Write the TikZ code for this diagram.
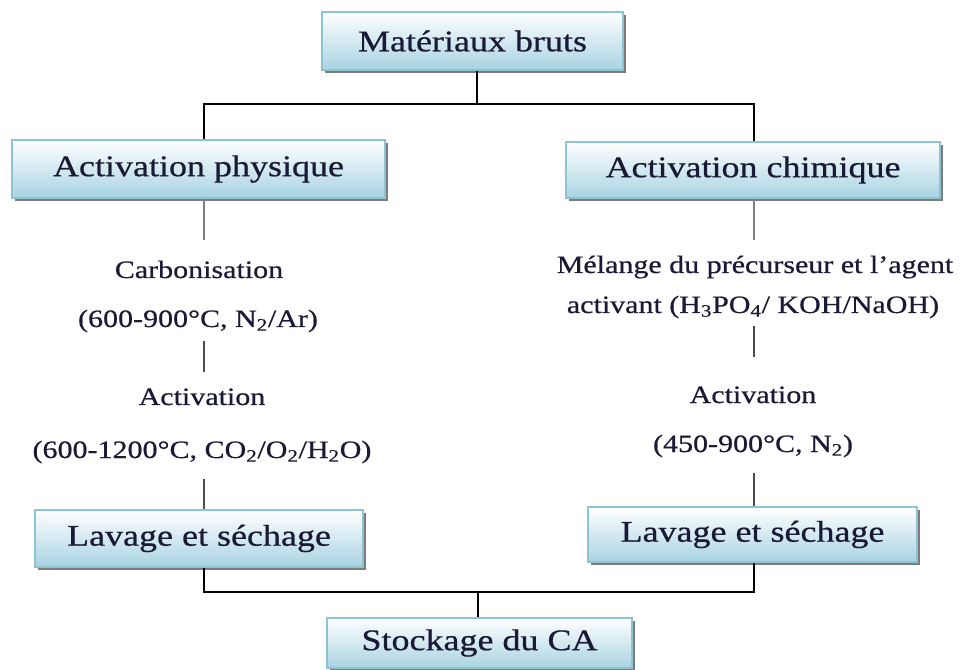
\documentclass[tikz,border=0pt]{standalone}
\usepackage{fontspec}
\setmainfont{Liberation Serif}[FakeStretch=1.2,FakeBold=0.6]
\usetikzlibrary{shadows}
\definecolor{boxedge}{HTML}{8FC3D3}
\definecolor{boxbot}{HTML}{A8D3E2}
\definecolor{ink}{HTML}{1A1A36}
\begin{document}
\begin{tikzpicture}[x=0.75pt,y=-0.75pt,
  box/.style={draw=boxedge,line width=1.5pt,top color=white,bottom color=boxbot,
    inner sep=0pt,text=ink,font=\fontsize{22.5}{27}\selectfont,
    drop shadow={shadow xshift=2.5pt,shadow yshift=-2.5pt,fill=black!60,opacity=0.85}},
  lbl/.style={text=ink,font=\fontsize{18.75}{22}\selectfont,inner sep=0pt,anchor=base,
    text height=13.5pt,text depth=4.7pt},
  link/.style={line width=1.3pt,black},
  glink/.style={line width=1.3pt,gray},
  dlink/.style={line width=1.3pt,black!70}]
\useasboundingbox (0,0) rectangle (961,670);
\fill[white] (0,0) rectangle (961,670);

% boxes
\node[box,minimum width=225.75pt,minimum height=43.5pt] (top) at (472.5,41) {Matériaux bruts};
\node[box,minimum width=279.75pt,minimum height=43.5pt] (AP) at (198.5,169) {Activation physique};
\node[box,minimum width=280.5pt,minimum height=42pt] (AC) at (753,170) {Activation chimique};
\node[box,minimum width=246pt,minimum height=42.75pt] (LL) at (199,538.5) {Lavage et séchage};
\node[box,minimum width=246.75pt,minimum height=41.25pt] (LR) at (752.5,534.5) {Lavage et séchage};
\node[box,minimum width=228.75pt,minimum height=37.5pt] (S) at (479.5,643) {Stockage du CA};

% labels
\node[lbl] (carb) at (199,278) {Carbonisation};
\node[lbl] (carbT) at (198,327) {(600-900°C, N\textsubscript{2}/Ar)};
\node[lbl] (act) at (202,405) {Activation};
\node[lbl] (actT) at (202,458) {(600-1200°C, CO\textsubscript{2}/O\textsubscript{2}/H\textsubscript{2}O)};
\node[lbl] (mel1) at (755,273) {Mélange du précurseur et l’agent};
\node[lbl] (mel2) at (753,313) {activant (H\textsubscript{3}PO\textsubscript{4}/ KOH/NaOH)};
\node[lbl] (act2) at (753,403) {Activation};
\node[lbl] (act2T) at (753,452) {(450-900°C, N\textsubscript{2})};

% columns and junctions
\coordinate (colL) at (204,0);
\coordinate (colR) at (754,0);
\coordinate (colM) at (477,0);
\coordinate (colB) at (478,0);
\coordinate (jTop) at (0,104);
\coordinate (jBot) at (0,592);

% top split
\draw[link] (top.south -| colM) -- (jTop -| colM);
\draw[link] (AP.north -| colL) -- (jTop -| colL) -- (jTop -| colR) -- (AC.north -| colR);

% left chain
\draw[glink,shorten >=15pt] (AP.south -| colL) -- (carb.north -| colL);
\draw[dlink,shorten <=5.25pt,shorten >=11.25pt] (carbT.south -| colL) -- (act.north -| colL);
\draw[dlink,shorten <=10.5pt] (actT.south -| colL) -- (LL.north -| colL);

% right chain
\draw[glink,shorten >=11.25pt] (AC.south -| colR) -- (mel1.north -| colR);
\draw[dlink,shorten <=4.5pt,shorten >=21pt] (mel2.south -| colR) -- (act2.north -| colR);
\draw[dlink,shorten <=10.5pt] (act2T.south -| colR) -- (LR.north -| colR);

% bottom join
\draw[link] (LL.south -| colL) -- (jBot -| colL) -- (jBot -| colR) -- (LR.south -| colR);
\draw[link] (jBot -| colB) -- (S.north -| colB);
\end{tikzpicture}
\end{document}
